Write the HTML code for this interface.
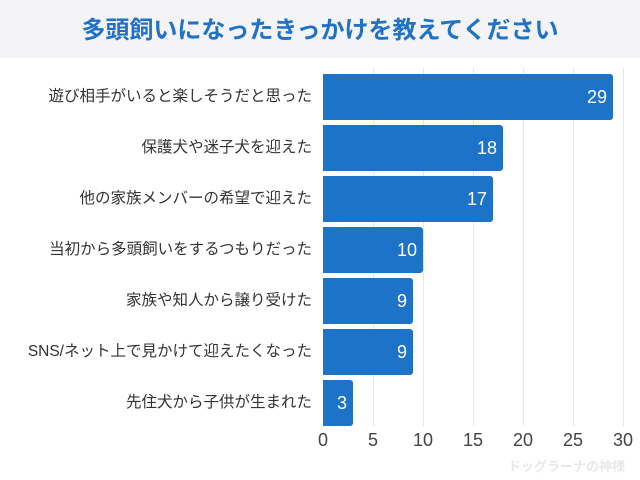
<!DOCTYPE html>
<html><head><meta charset="utf-8"><style>
body{margin:0;width:640px;height:480px;background:#fff;font-family:"Liberation Sans","Noto Sans CJK JP",sans-serif;position:relative;overflow:hidden}
.t{position:absolute;left:0;top:0;width:640px;height:58px;background:#f4f4f6;color:#1f72c4;font-size:24px;font-weight:bold;text-align:center;line-height:62px}
.g{position:absolute;top:68px;height:358px;width:1px;background:#e6e6e6}
.b{position:absolute;left:323px;height:46px;background:#1c73c7;border-radius:0 3px 3px 0;color:#fff;font-size:18px;text-align:right;line-height:46px;box-sizing:border-box;padding-right:6px}
.l{position:absolute;right:328px;font-size:15.5px;color:#333;line-height:46px;white-space:nowrap}
.x{position:absolute;top:430px;font-size:18px;color:#444;width:40px;margin-left:-20px;text-align:center}
</style></head><body>
<div class="t">多頭飼いになったきっかけを教えてください</div>
<div class="g" style="left:373px"></div><div class="g" style="left:423px"></div><div class="g" style="left:473px"></div><div class="g" style="left:523px"></div><div class="g" style="left:573px"></div><div class="g" style="left:623px"></div>
<div class="l" style="top:74px">遊び相手がいると楽しそうだと思った</div><div class="b" style="top:74px;width:290px">29</div>
<div class="l" style="top:125px">保護犬や迷子犬を迎えた</div><div class="b" style="top:125px;width:180px">18</div>
<div class="l" style="top:176px">他の家族メンバーの希望で迎えた</div><div class="b" style="top:176px;width:170px">17</div>
<div class="l" style="top:227px">当初から多頭飼いをするつもりだった</div><div class="b" style="top:227px;width:100px">10</div>
<div class="l" style="top:278px">家族や知人から譲り受けた</div><div class="b" style="top:278px;width:90px">9</div>
<div class="l" style="top:329px">SNS/ネット上で見かけて迎えたくなった</div><div class="b" style="top:329px;width:90px">9</div>
<div class="l" style="top:380px">先住犬から子供が生まれた</div><div class="b" style="top:380px;width:30px">3</div>
<div class="x" style="left:323px">0</div><div class="x" style="left:373px">5</div><div class="x" style="left:423px">10</div><div class="x" style="left:473px">15</div><div class="x" style="left:523px">20</div><div class="x" style="left:573px">25</div><div class="x" style="left:623px">30</div>
<div style="position:absolute;left:508px;top:456px;font-size:13px;color:#e8e8e8;font-weight:bold;white-space:nowrap">ドッグラーナの神様</div>
</body></html>
